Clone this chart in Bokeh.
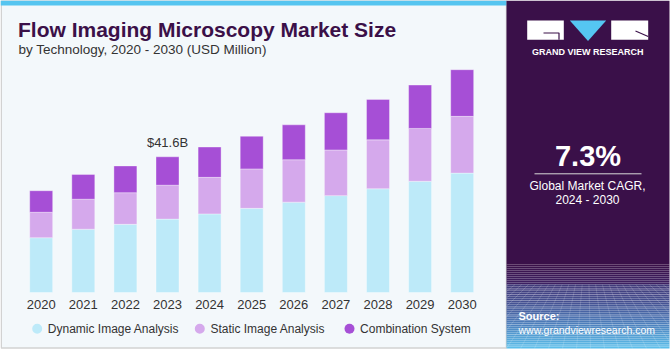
from bokeh.plotting import figure
from bokeh.models import Range1d, ColumnDataSource
from bokeh.core.properties import value
from bokeh.embed import file_html
from bokeh.resources import INLINE

# ---------------- data ----------------
years = [2020, 2021, 2022, 2023, 2024, 2025, 2026, 2027, 2028, 2029, 2030]
year_labels = [str(y) for y in years]
dynamic = [16.8, 19.4, 20.9, 22.5, 24.1, 25.8, 27.7, 29.7, 31.8, 34.1, 36.6]
static = [7.8, 9.2, 9.7, 10.4, 11.2, 12.1, 13.0, 14.0, 15.0, 16.2, 17.4]
combination = [6.6, 7.6, 8.2, 8.7, 9.3, 10.0, 10.7, 11.4, 12.4, 13.3, 14.3]
series_names = ["Dynamic Image Analysis", "Static Image Analysis", "Combination System"]
series_colors = ["#BDEAF9", "#D5A9EC", "#A64FD6"]
highlight_year = 2023
cagr_text = "7.3%"
cagr_caption = ["Global Market CAGR,", "2024 - 2030"]
title_text = "Flow Imaging Microscopy Market Size"
subtitle_text = "by Technology, 2020 - 2030 (USD Million)"

FONT = value("Liberation Sans")
W, H = 671, 350
K = 0.3  # baseline compensation (fraction of font size)

p = figure(width=W, height=H, output_backend="svg", toolbar_location=None,
           x_range=Range1d(2019.033, 2034.972), y_range=Range1d(-17.78, 89.52),
           x_axis_location=None, y_axis_location=None, min_border=0)
p.extra_x_ranges = {"px": Range1d(0, W)}
p.extra_y_ranges = {"px": Range1d(H, 0)}
p.xgrid.grid_line_color = None
p.ygrid.grid_line_color = None
p.outline_line_color = None
p.background_fill_color = "white"
p.border_fill_color = "white"

PX = dict(x_range_name="px", y_range_name="px")


def label(x, y, txt, size, color="#333333", bold=False, align="left"):
    p.text(x=x, y=[v - K * size for v in y], text=txt, text_font=FONT,
           text_font_size="%gpx" % size, text_font_style="bold" if bold else "normal",
           text_color=color, text_align=align, text_baseline="alphabetic", **PX)


# ---------------- left panel ----------------
p.quad(left=[0.75], right=[506], top=[0], bottom=[347.5], fill_color="#F3F8FB",
       line_color="#D2D2D2", line_width=1.5, **PX)
p.quad(left=[0], right=[506], top=[0], bottom=[5], fill_color="#56C5F0",
       line_color=None, **PX)

# ---------------- right panel ----------------
p.quad(left=[506], right=[669], top=[0], bottom=[264], fill_color="#3A1049",
       line_color=None, **PX)


def hex2rgb(h):
    h = h.lstrip("#")
    return tuple(int(h[i:i + 2], 16) for i in (0, 2, 4))


stops = [(264, "#3A1049"), (282, "#3D2062"), (284, "#413A7A"), (300, "#454F90"),
         (322, "#4D7EBB"), (348, "#5DC3EE")]
gl, gr, gt, gb, gc = [], [], [], [], []
yy = 264
while yy < 348:
    for (y0, c0), (y1, c1) in zip(stops[:-1], stops[1:]):
        if y0 <= yy < y1:
            t = (yy - y0) / (y1 - y0)
            a, b = hex2rgb(c0), hex2rgb(c1)
            rgb = tuple(int(round(a[i] + (b[i] - a[i]) * t)) for i in range(3))
            gc.append("#%02x%02x%02x" % rgb)
            break
    gl.append(506); gr.append(669); gt.append(yy); gb.append(yy + 2.05)
    yy += 2
p.quad(left=gl, right=gr, top=gt, bottom=gb, fill_color=gc, line_color=None, **PX)

# faint perspective mesh
xs, ys = [], []
for yh in [289, 294, 300, 307, 315, 324, 334, 345]:
    xs.append([506, 669]); ys.append([yh, yh])
vx, vy = 587.0, 225.0
for xb in range(380, 800, 14):
    t0 = (284.0 - vy) / (348 - vy)
    tlo, thi = t0, 1.0
    dx = xb - vx
    if dx != 0:
        ta = (506 - vx) / dx
        tb = (669 - vx) / dx
        tlo = max(tlo, min(ta, tb))
        thi = min(thi, max(ta, tb))
    if thi > tlo:
        xs.append([vx + tlo * dx, vx + thi * dx])
        ys.append([vy + tlo * (348 - vy), vy + thi * (348 - vy)])
p.multi_line(xs=xs, ys=ys, line_color="white", line_alpha=0.15, line_width=1, **PX)

# logo
p.quad(left=[526.7, 610.7], right=[563.3, 647.7], top=[20, 20], bottom=[39.3, 39.3],
       fill_color="white", line_color=None, **PX)
p.patch(x=[569.3, 605.7, 587.5], y=[20, 20, 40.5], fill_color="#55C6F2",
        line_color=None, **PX)
p.multi_line(xs=[[543, 558.5, 558.5], [635, 647.7]], ys=[[32.5, 32.5, 39.3], [30.5, 36]],
             line_color="#3A1049", line_width=1.2, **PX)
label([587.3], [54.5], ["GRAND VIEW RESEARCH"], 9, color="white", bold=True, align="center")

# CAGR
label([587.5], [164.5], [cagr_text], 29, color="white", bold=True, align="center")
p.line(x=[534, 641], y=[173.3, 173.3], line_color="#D9D9D9", line_width=1, **PX)
label([587, 587], [189, 203.5], cagr_caption, 12, color="white", align="center")

# source
label([518], [319], ["Source:"], 11, color="white", bold=True)
label([518], [332.5], ["www.grandviewresearch.com"], 10.5, color="white")

# ---------------- titles ----------------
label([17.5], [35.5], [title_text], 21, color="#3B1048", bold=True)
label([18], [53.5], [subtitle_text], 13.5)

# ---------------- bars ----------------
source = ColumnDataSource(dict(year=years, label=year_labels, dyn=dynamic,
                               sta=static, com=combination))
p.vbar_stack(["dyn", "sta", "com"], x="year", width=0.546, source=source,
             fill_color=series_colors, line_color="white", line_alpha=0.35,
             line_width=1)

# year labels
p.text(x="year", y=0, text="label", source=source, y_offset=16 - K * 13,
       text_font=FONT, text_font_size="13px", text_color="#333333",
       text_align="center", text_baseline="alphabetic")

# highlight total
i = years.index(highlight_year)
total = dynamic[i] + static[i] + combination[i]
p.text(x=[highlight_year], y=[total], text=["$%.1fB" % total], y_offset=-10 - K * 13,
       text_font=FONT, text_font_size="13px", text_color="#333333",
       text_align="center", text_baseline="alphabetic")

# ---------------- legend ----------------
leg_x = [36.7, 199.3, 349.0]
p.scatter(x=leg_x, y=[328.3] * 3, size=10, marker="circle", fill_color=series_colors,
          line_color=None, **PX)
label([x + 10.6 for x in leg_x], [332.3] * 3, series_names, 12)

open("out.html", "w").write(file_html(p, INLINE))
